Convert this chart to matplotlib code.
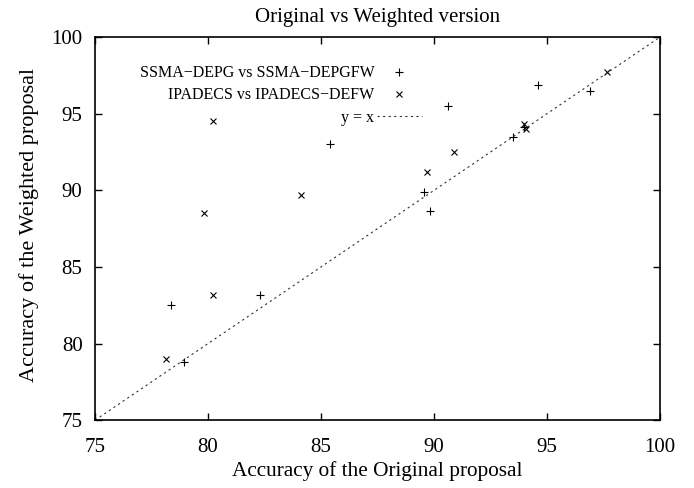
import matplotlib
matplotlib.use('Agg')
import matplotlib.pyplot as plt

plt.rcParams['font.family'] = ['Liberation Serif', 'DejaVu Serif']

# SSMA-DEPG (original) vs SSMA-DEPGFW (weighted)
ssma_orig = [78.35, 78.95, 82.3, 85.4, 89.55, 89.8, 90.6, 93.5, 94.0, 94.6, 96.9]
ssma_weig = [82.5, 78.8, 83.2, 93.0, 89.9, 88.65, 95.5, 93.45, 94.1, 96.9, 96.45]

# IPADECS (original) vs IPADECS-DEFW (weighted)
ipa_orig = [78.15, 79.8, 80.2, 80.2, 84.1, 89.7, 90.9, 94.0, 94.05, 97.65]
ipa_weig = [79.0, 88.5, 94.5, 83.15, 89.7, 91.2, 92.5, 94.3, 94.0, 97.7]

diag = [75, 100]

fig = plt.figure(figsize=(6.94, 4.88), dpi=100)
ax = fig.add_axes([0.137, 0.139, 0.814, 0.785])

ax.plot(ssma_orig, ssma_weig, linestyle='none', marker='+', color='black',
        markersize=6, markeredgewidth=0.8, label='SSMA\u2212DEPG vs SSMA\u2212DEPGFW')
ax.plot(ipa_orig, ipa_weig, linestyle='none', marker='x', color='black',
        markersize=5, markeredgewidth=0.8, label='IPADECS vs IPADECS\u2212DEFW')
ax.plot(diag, diag, color='#333333', linewidth=0.8, linestyle=(0, (2, 3)),
        label='y = x')

ax.set_xlim(75, 100)
ax.set_ylim(75, 100)
ax.set_xticks([75, 80, 85, 90, 95, 100])
ax.set_yticks([75, 80, 85, 90, 95, 100])
ax.tick_params(direction='in', length=5, width=1, top=True, right=True,
               labelsize=15)
ax.tick_params(axis='x', pad=13)
ax.tick_params(axis='y', pad=9)
for s in ax.spines.values():
    s.set_linewidth(1.2)

ax.set_title('Original vs Weighted version', fontsize=15, pad=11)
ax.set_xlabel('Accuracy of the Original proposal', fontsize=15.3, labelpad=3)
ax.set_ylabel('Accuracy of the Weighted proposal', fontsize=16)
ax.yaxis.set_label_coords(-0.1, 0.51)

ax.legend(loc='upper right', bbox_to_anchor=(0.592, 0.947), frameon=False,
          markerfirst=False, fontsize=11.5, handlelength=2.8, handletextpad=0.15,
          labelspacing=0.38, borderpad=0)

fig.savefig('out.png', dpi=100)
